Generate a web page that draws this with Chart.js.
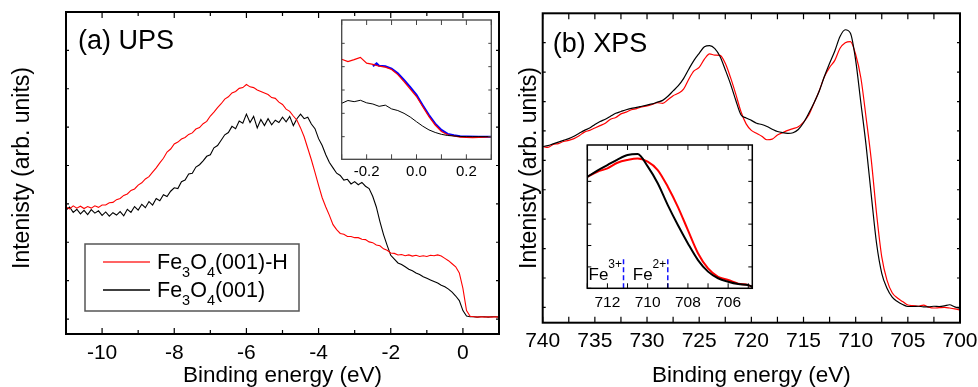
<!DOCTYPE html>
<html>
<head>
<meta charset="utf-8">
<script src="https://cdn.jsdelivr.net/npm/chart.js@4.4.1/dist/chart.umd.min.js"></script>
<style>
  body { margin: 0; background: #fff; width: 978px; height: 387px; overflow: hidden; position: relative; }
  canvas { position: absolute; }
</style>
</head>
<body>
<canvas id="ups" style="left:0;top:0" width="500" height="387"></canvas>
<canvas id="xps" style="left:500px;top:0" width="478" height="387"></canvas>
<canvas id="upsInset" style="left:330px;top:15px" width="170" height="170"></canvas>
<canvas id="xpsInset" style="left:575px;top:135px" width="190" height="180"></canvas>
<script>
// (a) UPS, binding energy in eV
const upsEnergy = [
  -11.0, -10.9, -10.8, -10.7, -10.6, -10.5, -10.4, -10.3, -10.2, -10.1,
  -10.0, -9.9, -9.8, -9.7, -9.6, -9.5, -9.4, -9.3, -9.2, -9.1,
  -9.0, -8.9, -8.8, -8.7, -8.6, -8.5, -8.4, -8.3, -8.2, -8.1,
  -8.0, -7.9, -7.8, -7.7, -7.6, -7.5, -7.4, -7.3, -7.2, -7.1,
  -7.0, -6.9, -6.8, -6.7, -6.6, -6.5, -6.4, -6.3, -6.2, -6.1,
  -6.0, -5.9, -5.8, -5.7, -5.6, -5.5, -5.4, -5.3, -5.2, -5.1,
  -5.0, -4.9, -4.8, -4.7, -4.6, -4.5, -4.4, -4.3, -4.2, -4.1,
  -4.0, -3.9, -3.8, -3.7, -3.6, -3.5, -3.4, -3.3, -3.2, -3.1,
  -3.0, -2.9, -2.8, -2.7, -2.6, -2.5, -2.4, -2.3, -2.2, -2.1,
  -2.0, -1.9, -1.8, -1.7, -1.6, -1.5, -1.4, -1.3, -1.2, -1.1,
  -1.0, -0.9, -0.8, -0.7, -0.6, -0.5, -0.4, -0.3, -0.2, -0.1,
  0.0, 0.1, 0.2, 0.3, 0.4, 0.5, 0.6, 0.7, 0.8, 0.9, 1.0
]
const upsHydrogen = [
  2.92, 2.87, 2.95, 2.89, 2.94, 2.88, 2.93, 2.89, 2.95, 2.91,
  2.97, 2.97, 3.03, 3.04, 3.11, 3.14, 3.22, 3.26, 3.35, 3.39,
  3.49, 3.55, 3.65, 3.71, 3.83, 3.94, 4.07, 4.19, 4.35, 4.43,
  4.56, 4.61, 4.69, 4.73, 4.81, 4.85, 4.95, 4.99, 5.09, 5.15,
  5.29, 5.39, 5.51, 5.61, 5.73, 5.79, 5.89, 5.93, 6.01, 6.03,
  6.11, 6.05, 6.03, 5.97, 5.93, 5.89, 5.85, 5.77, 5.75, 5.65,
  5.59, 5.47, 5.41, 5.29, 5.18, 4.98, 4.75, 4.45, 4.15, 3.82,
  3.48, 3.16, 2.92, 2.70, 2.46, 2.33, 2.23, 2.21, 2.15, 2.15,
  2.12, 2.12, 2.08, 2.07, 2.01, 1.99, 1.93, 1.91, 1.83, 1.79,
  1.72, 1.71, 1.67, 1.68, 1.65, 1.67, 1.64, 1.66, 1.63, 1.65,
  1.63, 1.66, 1.65, 1.67, 1.64, 1.58, 1.52, 1.44, 1.36, 1.20,
  0.80, 0.22, 0.07, 0.06, 0.05, 0.06, 0.05, 0.06, 0.05, 0.06, 0.05
]
const upsClean = [
  2.84, 2.92, 2.78, 2.86, 2.74, 2.83, 2.72, 2.85, 2.76, 2.82,
  2.70, 2.79, 2.68, 2.77, 2.71, 2.80, 2.69, 2.86, 2.78, 2.93,
  2.84, 2.99, 2.90, 3.06, 2.97, 3.14, 3.08, 3.24, 3.19, 3.33,
  3.42, 3.40, 3.58, 3.62, 3.78, 3.80, 3.96, 4.02, 4.12, 4.24,
  4.28, 4.46, 4.52, 4.66, 4.80, 4.86, 5.02, 4.96, 5.16, 5.10,
  5.34, 5.12, 5.28, 4.98, 5.20, 5.04, 5.22, 5.06, 5.18, 5.12,
  5.26, 5.14, 5.28, 5.04, 5.22, 5.34, 5.22, 5.26, 5.08, 4.96,
  4.70, 4.52, 4.28, 4.08, 3.94, 3.80, 3.74, 3.62, 3.64, 3.52,
  3.58, 3.50, 3.56, 3.46, 3.40, 3.20, 2.92, 2.54, 2.20, 1.92,
  1.66, 1.56, 1.46, 1.42, 1.36, 1.30, 1.26, 1.20, 1.16, 1.10,
  1.06, 1.02, 0.98, 0.94, 0.88, 0.84, 0.78, 0.70, 0.60, 0.48,
  0.22, 0.08, 0.06, 0.06, 0.05, 0.06, 0.06, 0.05, 0.06, 0.06, 0.05
]

// (a) inset, near the Fermi level
const upsInsetEnergy = [
  -0.3, -0.275, -0.25, -0.225, -0.2, -0.175, -0.15, -0.125, -0.1, -0.075,
  -0.05, -0.025, 0.0, 0.025, 0.05, 0.075, 0.1, 0.125, 0.15, 0.175,
  0.2, 0.225, 0.25, 0.275, 0.3
]
const upsInsetHydrogen = [
  3.32, 3.22, 3.30, 3.40, 3.15, 3.10, 3.02, 2.98, 2.88, 2.66,
  2.36, 2.04, 1.72, 1.28, 0.86, 0.50, 0.22, 0.08, 0.03, -0.02,
  -0.03, -0.04, -0.03, -0.02, 0.0
]
const upsInsetClean = [
  1.43, 1.55, 1.50, 1.56, 1.45, 1.40, 1.30, 1.35, 1.19, 1.12,
  1.00, 0.84, 0.64, 0.45, 0.29, 0.18, 0.10, 0.05, 0.03, 0.01,
  0.0, 0.0, 0.0, 0.0, 0.0
]
const upsFitEnergy = [-0.175, -0.16, -0.15, -0.125, -0.1, -0.075, -0.05, -0.025, 0.0, 0.025, 0.05, 0.075, 0.1, 0.125, 0.15, 0.175, 0.2, 0.25, 0.3]
const upsFit = [3.02, 3.14, 3.04, 3.02, 2.92, 2.72, 2.43, 2.12, 1.79, 1.35, 0.93, 0.56, 0.29, 0.12, 0.06, 0.02, 0.01, 0.0, 0.0]

// (b) XPS, Fe 2p
const xpsEnergy = [
  740.0, 739.5, 739.0, 738.5, 738.0, 737.5, 737.0, 736.5, 736.0, 735.5,
  735.0, 734.5, 734.0, 733.5, 733.0, 732.5, 732.0, 731.5, 731.0, 730.5,
  730.0, 729.5, 729.0, 728.5, 728.0, 727.5, 727.0, 726.5, 726.0, 725.5,
  725.0, 724.5, 724.0, 723.5, 723.0, 722.5, 722.0, 721.5, 721.0, 720.5,
  720.0, 719.5, 719.0, 718.5, 718.0, 717.5, 717.0, 716.5, 716.0, 715.5,
  715.0, 714.5, 714.0, 713.5, 713.0, 712.5, 712.0, 711.5, 711.0, 710.5,
  710.0, 709.5, 709.0, 708.5, 708.0, 707.5, 707.0, 706.5, 706.0, 705.5,
  705.0, 704.5, 704.0, 703.5, 703.0, 702.5, 702.0, 701.5, 701.0, 700.5, 700.0
]
const xpsHydrogen = [
  5.47, 5.44, 5.54, 5.57, 5.64, 5.68, 5.74, 5.84, 5.96, 6.02,
  6.10, 6.18, 6.26, 6.40, 6.46, 6.58, 6.64, 6.72, 6.76, 6.82,
  6.85, 6.90, 6.96, 6.94, 7.06, 7.20, 7.28, 7.42, 7.76, 8.04,
  8.16, 8.44, 8.62, 8.58, 8.57, 8.30, 7.82, 7.26, 6.66, 6.24,
  6.02, 5.92, 5.82, 5.70, 5.72, 5.86, 5.94, 6.02, 6.08, 6.14,
  6.30, 6.54, 6.94, 7.36, 7.84, 8.16, 8.40, 8.81, 9.00, 9.04,
  8.60, 7.80, 6.45, 5.00, 3.20, 1.72, 0.93, 0.50, 0.32, 0.20,
  0.08, 0.06, 0.04, 0.08, 0.01, -0.02, -0.01, 0.00, -0.02, -0.05, -0.09
]
const xpsClean = [
  5.47, 5.50, 5.56, 5.62, 5.68, 5.74, 5.82, 5.92, 6.02, 6.10,
  6.22, 6.32, 6.40, 6.50, 6.60, 6.66, 6.72, 6.77, 6.80, 6.84,
  6.88, 6.92, 6.98, 7.04, 7.18, 7.36, 7.54, 7.78, 8.10, 8.40,
  8.64, 8.86, 8.90, 8.80, 8.53, 8.08, 7.60, 7.05, 6.55, 6.44,
  6.36, 6.26, 6.22, 6.15, 6.06, 5.98, 5.94, 5.92, 5.94, 6.05,
  6.28, 6.60, 6.95, 7.35, 7.85, 8.30, 8.72, 9.21, 9.44, 9.32,
  8.40, 6.95, 5.50, 3.80, 2.18, 1.16, 0.65, 0.35, 0.20, 0.10,
  0.03, 0.03, 0.04, 0.02, 0.02, 0.04, 0.03, 0.05, 0.09, 0.02, -0.03
]

// (b) inset, Fe 2p3/2 edge
const xpsInsetEnergy = [713.0, 712.5, 712.0, 711.5, 711.0, 710.5, 710.0, 709.5, 709.0, 708.5, 708.0, 707.5, 707.0, 706.5, 706.0, 705.5, 705.0, 704.8]
const xpsInsetClean = [5.21, 5.50, 5.76, 6.02, 6.23, 6.28, 5.70, 4.91, 3.89, 2.96, 2.10, 1.32, 0.78, 0.47, 0.31, 0.20, 0.15, 0.07]
const xpsInsetHydrogen = [5.21, 5.45, 5.61, 5.87, 6.00, 6.07, 5.92, 5.53, 4.75, 3.81, 2.72, 1.64, 0.93, 0.54, 0.39, 0.22, 0.15, 0.07]
const markerEnergy = [711.2, 709.0]
const markerCharge = ['3+', '2+']
const markerHeight = 1.48

const FONT = "'Liberation Sans', Arial, Helvetica, sans-serif"
const RED = '#ff0000'
const BLUE = '#0000ff'

function pts(xs, ys) {
  return xs.map((x, i) => ({ x, y: ys[i] }))
}

// text with sub/superscripts: parts = [[text, 0 normal | 1 sub | 2 sup], ...]
function richText(ctx, x, y, parts, size, subSize, align) {
  let w = 0
  for (const [t, m] of parts) {
    ctx.font = `${m ? subSize : size}px ${FONT}`
    w += ctx.measureText(t).width
  }
  if (align === 'right') x -= w
  for (const [t, m] of parts) {
    ctx.font = `${m ? subSize : size}px ${FONT}`
    const dy = m === 1 ? size * 0.35 : m === 2 ? -size * 0.72 : 0
    ctx.fillText(t, x, y + dy)
    x += ctx.measureText(t).width
  }
}

// boxed frame with inward ticks, like the original plot
const framePlugin = {
  id: 'frame',
  beforeDatasetsDraw(chart, args, o) {
    if (!o.fill) return
    const { ctx, chartArea: a } = chart
    ctx.save()
    ctx.fillStyle = o.fill
    ctx.fillRect(a.left, a.top, a.width, a.height)
    ctx.restore()
  },
  afterDatasetsDraw(chart, args, o) {
    const { ctx, chartArea: a } = chart
    const x = chart.scales.x, y = chart.scales.y
    ctx.save()
    ctx.strokeStyle = o.color
    ctx.lineWidth = o.tickWidth
    ctx.beginPath()
    x.ticks.forEach(t => {
      const px = x.getPixelForValue(t.value)
      const len = t.label === '' ? o.xMinor : o.xMajor
      ctx.moveTo(px, a.bottom); ctx.lineTo(px, a.bottom - len)
      ctx.moveTo(px, a.top); ctx.lineTo(px, a.top + len)
    })
    for (let v = Math.ceil(y.min / o.yStep) * o.yStep; v < y.max - 0.01; v += o.yStep) {
      const py = y.getPixelForValue(v)
      ctx.moveTo(a.left, py); ctx.lineTo(a.left + o.yLen, py)
      ctx.moveTo(a.right, py); ctx.lineTo(a.right - o.yLen, py)
    }
    ctx.stroke()
    ctx.lineWidth = o.width
    ctx.strokeRect(a.left, a.top, a.width, a.height)
    ctx.restore()
  }
}

function xAxis(min, max, step, size, pad, height, fmt, reverse) {
  return {
    type: 'linear', min, max, reverse: !!reverse,
    grid: { display: false, drawTicks: false },
    border: { display: false },
    ticks: {
      stepSize: step, includeBounds: false, autoSkip: false, maxRotation: 0,
      maxTicksLimit: 1000, padding: pad, color: '#000',
      font: { family: FONT, size },
      callback: fmt
    },
    afterFit(s) { s.height = height; s.paddingLeft = 0; s.paddingRight = 0 }
  }
}

function line(label, data, color, width, extra) {
  return Object.assign({
    label, data, borderColor: color, backgroundColor: color,
    borderWidth: width, pointRadius: 0, fill: false, tension: 0
  }, extra || {})
}

Chart.defaults.font.family = FONT
Chart.defaults.color = '#000'

// ---------- (a) UPS ----------
new Chart(document.getElementById('ups'), {
  type: 'line',
  data: {
    datasets: [
      line('Fe3O4(001)-H', pts(upsEnergy, upsHydrogen), RED, 1.1),
      line('Fe3O4(001)', pts(upsEnergy, upsClean), '#000', 1.1)
    ]
  },
  options: {
    responsive: false, animation: false, devicePixelRatio: 1,
    layout: { padding: { left: 66, right: 1, top: 12, bottom: 0 } },
    scales: {
      x: xAxis(-11, 1, 1, 21, 7, 53, v => (Math.round(v) % 2 === 0 ? String(v) : '')),
      y: { type: 'linear', display: false, min: -0.39, max: 8 }
    },
    plugins: {
      legend: { display: false }, tooltip: { enabled: false },
      frame: { color: '#000', width: 2, tickWidth: 1.2, xMajor: 6, xMinor: 4, yStep: 1, yLen: 3 }
    }
  },
  plugins: [framePlugin, {
    id: 'upsText',
    afterDraw(chart) {
      const { ctx, chartArea: a } = chart
      ctx.save()
      ctx.fillStyle = '#000'
      ctx.textBaseline = 'alphabetic'
      ctx.font = `27px ${FONT}`
      ctx.fillText('(a) UPS', 78, 49)
      ctx.font = `22.5px ${FONT}`
      ctx.textAlign = 'center'
      ctx.fillText('Binding energy (eV)', (a.left + a.right) / 2, 382)
      ctx.save()
      ctx.font = `23px ${FONT}`
      ctx.translate(29, 168)
      ctx.rotate(-Math.PI / 2)
      ctx.fillText('Intenisty (arb. units)', 0, 0)
      ctx.restore()
      // legend
      ctx.textAlign = 'left'
      ctx.fillStyle = '#fff'
      ctx.fillRect(85, 244, 214, 67)
      ctx.strokeStyle = '#555'
      ctx.lineWidth = 1.5
      ctx.strokeRect(85, 244, 214, 67)
      ctx.lineWidth = 1.4
      ctx.strokeStyle = '#ff3030'
      ctx.beginPath(); ctx.moveTo(103, 262); ctx.lineTo(150, 262); ctx.stroke()
      ctx.strokeStyle = '#000'
      ctx.beginPath(); ctx.moveTo(103, 290); ctx.lineTo(150, 290); ctx.stroke()
      ctx.fillStyle = '#000'
      richText(ctx, 157, 269, [['Fe', 0], ['3', 1], ['O', 0], ['4', 1], ['(001)-H', 0]], 21.5, 14.5)
      richText(ctx, 157, 297, [['Fe', 0], ['3', 1], ['O', 0], ['4', 1], ['(001)', 0]], 21.5, 14.5)
      ctx.restore()
    }
  }]
})

// ---------- (a) inset ----------
new Chart(document.getElementById('upsInset'), {
  type: 'line',
  data: {
    datasets: [
      line('Fe3O4(001)', pts(upsInsetEnergy, upsInsetClean), '#000', 1),
      line('Fe3O4(001)-H', pts(upsInsetEnergy, upsInsetHydrogen), RED, 1.2),
      line('fit', pts(upsFitEnergy, upsFit), BLUE, 2)
    ]
  },
  options: {
    responsive: false, animation: false, devicePixelRatio: 1,
    layout: { padding: { left: 11.7, right: 8.7, top: 5, bottom: 0 } },
    scales: {
      x: xAxis(-0.3, 0.3, 0.1, 15, 4, 25.7, v => (Math.round(v * 10) % 2 === 0 ? v.toFixed(1) : '')),
      y: { type: 'linear', display: false, min: -0.97, max: 5 }
    },
    plugins: {
      legend: { display: false }, tooltip: { enabled: false },
      frame: { fill: '#fff', color: '#444', width: 1.3, tickWidth: 1, xMajor: 5, xMinor: 5, yStep: 1, yLen: 3 }
    }
  },
  plugins: [framePlugin]
})

// ---------- (b) XPS ----------
new Chart(document.getElementById('xps'), {
  type: 'line',
  data: {
    datasets: [
      line('Fe3O4(001)', pts(xpsEnergy, xpsClean), '#000', 1.2, { cubicInterpolationMode: 'monotone' }),
      line('Fe3O4(001)-H', pts(xpsEnergy, xpsHydrogen), RED, 1.2, { cubicInterpolationMode: 'monotone' })
    ]
  },
  options: {
    responsive: false, animation: false, devicePixelRatio: 1,
    layout: { padding: { left: 42.7, right: 18, top: 13.3, bottom: 0 } },
    scales: {
      x: xAxis(700, 740, 2.5, 21, 6, 64.3, v => (Math.round(v * 10) % 50 === 0 ? String(v) : ''), true),
      y: { type: 'linear', display: false, min: -0.52, max: 10 }
    },
    plugins: {
      legend: { display: false }, tooltip: { enabled: false },
      frame: { color: '#000', width: 2, tickWidth: 1.2, xMajor: 6, xMinor: 6, yStep: 1, yLen: 3 }
    }
  },
  plugins: [framePlugin, {
    id: 'xpsText',
    afterDraw(chart) {
      const { ctx, chartArea: a } = chart
      ctx.save()
      ctx.fillStyle = '#000'
      ctx.font = `27px ${FONT}`
      ctx.fillText('(b) XPS', 52.7, 52)
      ctx.font = `22.5px ${FONT}`
      ctx.textAlign = 'center'
      ctx.fillText('Binding energy (eV)', (a.left + a.right) / 2, 382)
      ctx.font = `23px ${FONT}`
      ctx.translate(35.5, 168)
      ctx.rotate(-Math.PI / 2)
      ctx.fillText('Intenisty (arb. units)', 0, 0)
      ctx.restore()
    }
  }]
})

// ---------- (b) inset ----------
new Chart(document.getElementById('xpsInset'), {
  type: 'line',
  data: {
    datasets: [
      line('Fe3O4(001)', pts(xpsInsetEnergy, xpsInsetClean), '#000', 2, { cubicInterpolationMode: 'monotone' }),
      line('Fe3O4(001)-H', pts(xpsInsetEnergy, xpsInsetHydrogen), RED, 2, { cubicInterpolationMode: 'monotone' }),
      ...markerEnergy.map((e, i) => line('Fe' + markerCharge[i], [{ x: e, y: 0 }, { x: e, y: markerHeight }], '#1010ff', 1.5, { borderDash: [5, 3] }))
    ]
  },
  options: {
    responsive: false, animation: false, devicePixelRatio: 1,
    layout: { padding: { left: 12.3, right: 12.7, top: 10, bottom: 0 } },
    scales: {
      x: xAxis(704.8, 713, 1, 15.5, 5, 26.7, v => (Math.round(v) % 2 === 0 ? String(v) : ''), true),
      y: { type: 'linear', display: false, min: 0, max: 6.7 }
    },
    plugins: {
      legend: { display: false }, tooltip: { enabled: false },
      frame: { fill: '#fff', color: '#000', width: 1.5, tickWidth: 1, xMajor: 5, xMinor: 5, yStep: 1, yLen: 4 }
    }
  },
  plugins: [framePlugin, {
    id: 'markerText',
    afterDraw(chart) {
      const { ctx } = chart
      const x = chart.scales.x
      ctx.save()
      ctx.fillStyle = '#000'
      markerEnergy.forEach((e, i) => {
        richText(ctx, x.getPixelForValue(e) - 1.5, 145, [['Fe', 0], [markerCharge[i], 2]], 17, 12, 'right')
      })
      ctx.restore()
    }
  }]
})
</script>
</body>
</html>
